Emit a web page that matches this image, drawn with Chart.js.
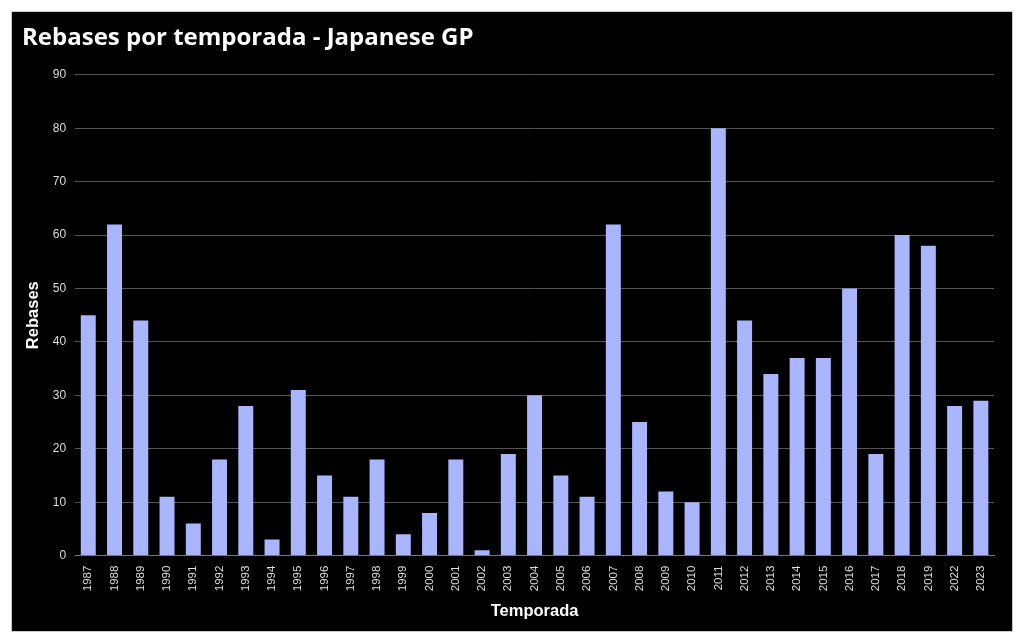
<!DOCTYPE html>
<html>
<head>
<meta charset="utf-8">
<script src="https://cdn.jsdelivr.net/npm/chart.js@4"></script>
<style>
    body { margin: 0; background: #fff; }
    #box {
        position: absolute; left: 11px; top: 11px; width: 1000px; height: 619px;
        background: #000; border: 1px solid #c8c8c8;
    }
</style>
</head>
<body>
<div id="box"><canvas id="chart"></canvas></div>
<script>
const seasons = ['1987', '1988', '1989', '1990', '1991', '1992', '1993', '1994', '1995', '1996',
    '1997', '1998', '1999', '2000', '2001', '2002', '2003', '2004', '2005', '2006',
    '2007', '2008', '2009', '2010', '2011', '2012', '2013', '2014', '2015', '2016',
    '2017', '2018', '2019', '2022', '2023'];
const overtakes = [45, 62, 44, 11, 6, 18, 28, 3, 31, 15,
    11, 18, 4, 8, 18, 1, 19, 30, 15, 11,
    62, 25, 12, 10, 80, 44, 34, 37, 37, 50,
    19, 60, 58, 28, 29];

const ctx = document.getElementById('chart').getContext('2d');
new Chart(ctx, {
    type: 'bar',
    data: {
        labels: seasons,
        datasets: [{
            label: 'Rebases',
            data: overtakes,
            backgroundColor: '#a9b5ff',
            barPercentage: 0.57,
            categoryPercentage: 1
        }]
    },
    options: {
        responsive: true,
        maintainAspectRatio: false,
        animation: false,
        layout: { padding: { left: 10, right: 18, top: 8, bottom: 6 } },
        plugins: {
            legend: { display: false },
            tooltip: { enabled: false },
            title: {
                display: true,
                text: 'Rebases por temporada - Japanese GP',
                align: 'start',
                color: '#fff',
                font: { family: 'Open Sans', size: 24, weight: 'bold' },
                padding: { top: 4, bottom: 22 }
            }
        },
        scales: {
            x: {
                grid: { display: false, drawTicks: false },
                border: { color: '#777', width: 1 },
                ticks: {
                    color: '#ddd',
                    font: { family: 'Liberation Sans', size: 11.5 },
                    maxRotation: 90,
                    minRotation: 90,
                    padding: 10,
                    autoSkip: false
                },
                title: {
                    display: true,
                    text: 'Temporada',
                    color: '#fff',
                    font: { family: 'Liberation Sans', size: 16.5, weight: 'bold' },
                    padding: { top: 0 }
                }
            },
            y: {
                min: 0,
                max: 90,
                grid: { color: '#555', drawTicks: false },
                border: { display: false },
                ticks: {
                    stepSize: 10,
                    color: '#ddd',
                    font: { family: 'Liberation Sans', size: 12 },
                    padding: 9
                },
                title: {
                    display: true,
                    text: 'Rebases',
                    color: '#fff',
                    font: { family: 'Liberation Sans', size: 16.5, weight: 'bold' },
                    padding: { top: 2, bottom: 0 }
                }
            }
        }
    }
});
</script>
</body>
</html>
